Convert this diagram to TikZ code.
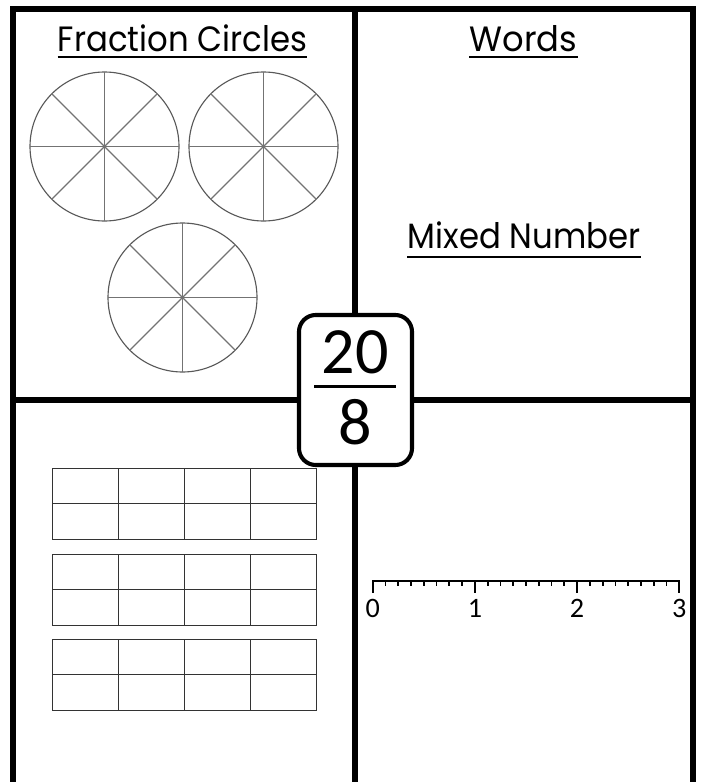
\documentclass[tikz,border=0pt]{standalone}
\usepackage{fontspec}
\newfontfamily\titlefont{Poppins}
\newfontfamily\numfont{Carlito}
\usetikzlibrary{positioning}

\newcommand\narrowtext[1]{\scalebox{0.92}[1]{#1}}

\tikzset{
  frame/.style={line width=4.3pt},
  title/.style={font=\titlefont\fontsize{25}{25}\selectfont, inner sep=0pt, anchor=base},
  titleline/.style={line width=1.6pt},
  pie/.style={draw=black!65, line width=0.8pt},
  spoke/.style={draw=black!55, line width=0.8pt},
  tape/.style={draw=black!80, line width=0.8pt},
  fracbox/.style={draw, fill=white, rounded corners=0.42cm, line width=2.9pt,
    minimum width=2.825cm, minimum height=3.75cm},
  fracnum/.style={font=\numfont\fontsize{47}{47}\selectfont, inner sep=0pt},
  fracbar/.style={line width=2.6pt},
  ticklabel/.style={font=\numfont\fontsize{20}{20}\selectfont, inner sep=0pt},
}

\begin{document}
\begin{tikzpicture}[x=0.025cm, y=-0.025cm]
  \useasboundingbox (0,0) rectangle (703,782);

  \coordinate (bl) at (13,782);
  \coordinate (tl) at (13,9);
  \coordinate (tr) at (693,9);
  \coordinate (br) at (693,782);
  \coordinate (mt) at (355,9);
  \coordinate (mb) at (355,782);
  \coordinate (ml) at (13,400);
  \coordinate (mr) at (693,400);

  \draw[frame] (bl) -- (tl) -- (tr) -- (br);
  \draw[frame] (mt) -- (mb);
  \draw[frame] (ml) -- (mr);

  % titles
  \node[title] (fc) at (182.5,52) {\narrowtext{Fraction Circles}};
  \draw[titleline] ([yshift=-3.6pt]fc.base west) -- ([yshift=-3.6pt]fc.base east);
  \node[title] (words) at (523.5,52) {\scalebox{0.96}[1]{Words}};
  \draw[titleline] ([yshift=-3.6pt]words.base west) -- ([yshift=-3.6pt]words.base east);
  \node[title] (mixed) at (524,248) {\narrowtext{Mixed Number}};
  \draw[titleline] ([yshift=-6.4pt]mixed.base west) -- ([yshift=-6.4pt]mixed.base east);

  % fraction circles
  \foreach \cx/\cy in {104.5/146.5, 263.5/146.5, 182.5/297.5}{
    \draw[pie] (\cx,\cy) circle[radius=74.5];
    \foreach \a in {0,45,90,135}
      \draw[spoke] (\cx,\cy) ++(\a:74.5) -- ++(\a+180:149);
  }

  % tape diagrams
  \foreach \ty in {468.3,554.3,639.3}{
    \draw[tape] (52.3,\ty) rectangle (316.7,\ty+71);
    \draw[tape] (52.3,\ty+35.5) -- (316.7,\ty+35.5);
    \foreach \c in {1,2,3}
      \draw[tape] (52.3+\c*66.1,\ty) -- ++(0,71);
  }

  % number line
  \coordinate (n0) at (372.7,580.7);
  \coordinate (n3) at (679.3,580.7);
  \draw[line width=1.5pt, line cap=rect] (n0) -- (n3);
  \foreach \i in {0,...,24}
    \draw[line width=1.3pt] (372.7+\i*12.775,580.7) -- ++(0,5.5);
  \foreach \n in {0,...,3}{
    \draw[line width=1.5pt] (372.7+\n*102.2,580.7) -- ++(0,12);
    \node[ticklabel] (lab\n) at (372.7+\n*102.2,608.5) {\n};
  }

  % fraction
  \node[fracbox] (frac) at (355.5,390) {};
  \node[fracnum] (num) at (355,352.5) {20};
  \node[fracnum] (den) at (355,422.5) {8};
  \coordinate (barl) at (314,386.5);
  \coordinate (barr) at (396,386.5);
  \draw[fracbar] (barl) -- (barr);
\end{tikzpicture}
\end{document}
